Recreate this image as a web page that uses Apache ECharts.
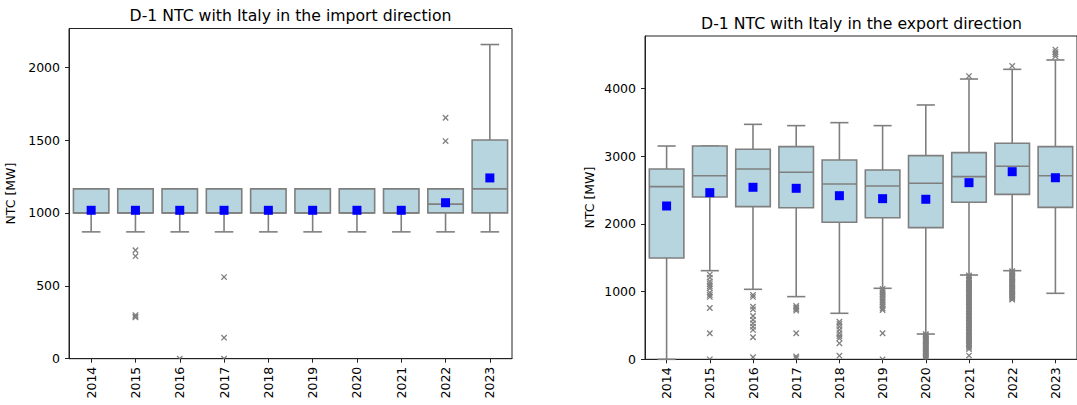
<!DOCTYPE html>
<html><head><meta charset="utf-8">
<script src="https://cdn.jsdelivr.net/npm/echarts@6/dist/echarts.min.js"></script>
<style>html,body{margin:0;padding:0;background:#fff}#c{width:1077px;height:405px}</style>
</head><body><div id="c"></div>
<script>
// ---------- data ----------
const categories = ['2014','2015','2016','2017','2018','2019','2020','2021','2022','2023'];
const importTicks = [0, 500, 1000, 1500, 2000];
const exportTicks = [0, 1000, 2000, 3000, 4000];

// import direction
const impLow    = [870, 870, 870, 870, 870, 870, 870, 870, 870, 870];
const impQ1     = [1000, 1000, 1000, 1000, 1000, 1000, 1000, 1000, 1000, 1000];
const impMedian = [1000, 1000, 1000, 1000, 1000, 1000, 1000, 1000, 1060, 1165];
const impQ3     = [1165, 1165, 1165, 1165, 1165, 1165, 1165, 1165, 1165, 1500];
const impHigh   = [1165, 1165, 1165, 1165, 1165, 1165, 1165, 1165, 1165, 2155];
const impMean   = [1018, 1018, 1018, 1018, 1018, 1018, 1018, 1018, 1070, 1240];
const impOutliers = [
  [],
  [744, 703, 299, 290, 283],
  [0],
  [560, 144, 0],
  [], [], [], [],
  [1653, 1493],
  []
];

// export direction
const expLow    = [0, 1308, 1033, 925, 679, 1048, 373, 1244, 1308, 974];
const expQ1     = [1495, 2396, 2253, 2238, 2022, 2090, 1943, 2317, 2435, 2243];
const expMedian = [2548, 2710, 2809, 2760, 2588, 2558, 2598, 2696, 2849, 2710];
const expQ3     = [2809, 3148, 3100, 3139, 2942, 2794, 3006, 3050, 3188, 3139];
const expHigh   = [3148, 3148, 3468, 3449, 3493, 3449, 3754, 4137, 4280, 4418];
const expMean   = [2263, 2460, 2539, 2524, 2415, 2371, 2362, 2607, 2769, 2680];
const expOutliers = [
  [],
  [1250, 1205, 1150, 1112, 1078, 1046, 985, 950, 921, 757, 384, 0],
  [950, 921, 777, 738, 639, 583, 531, 482, 433, 325, 30],
  [787, 762, 741, 718, 384, 42, 15],
  [555, 522, 482, 433, 384, 342, 308, 236, 53],
  [1040, 1012, 988, 962, 935, 902, 874, 846, 812, 785, 752, 728, 384, 0],
  [372, 355, 338, 322, 301, 287, 266, 248, 231, 212, 197, 178, 160, 143, 121, 104, 86, 69, 48, 31, 14, 0],
  [4180, 1238, 1221, 1197, 1176, 1158, 1133, 1112, 1094, 1071, 1052, 1030, 1011, 987, 968, 946, 921, 903, 884, 862, 840, 821, 798, 777, 756, 734, 712, 691, 668, 649, 627, 605, 584, 562, 541, 520, 498, 476, 455, 433, 412, 390, 368, 347, 325, 303, 282, 260, 238, 217, 196, 172, 150, 55],
  [4330, 1302, 1286, 1268, 1251, 1234, 1215, 1198, 1181, 1163, 1146, 1127, 1110, 1092, 1074, 1057, 1039, 1021, 1003, 986, 968, 950, 932, 915, 897, 880],
  [4572, 4535, 4503, 4470]
];

// ---------- styling ----------
const BOX = '#b6d5df', BORDER = '#7f7f7f', AX = '#222';
const FONT = 'DejaVu Sans';
const TICKFS = 12.5, TITLEFS = 15.7;

function boxData(low, q1, med, q3, high) {
  return categories.map((c, i) => [i, low[i], q1[i], med[i], q3[i], high[i]]);
}
function outData(list) {
  const out = [];
  list.forEach((arr, i) => arr.forEach(v => out.push([i, v])));
  return out;
}
function meanData(m) { return categories.map((c, i) => [i, m[i]]); }

function renderBox(params, api) {
  const i = api.value(0);
  const low = api.coord([i, api.value(1)]);
  const q1 = api.coord([i, api.value(2)]);
  const med = api.coord([i, api.value(3)]);
  const q3 = api.coord([i, api.value(4)]);
  const high = api.coord([i, api.value(5)]);
  const band = api.size([1, 0])[0];
  const bw = band * 0.8, cw = band * 0.42;
  const x = q1[0];
  const st = { stroke: BORDER, lineWidth: 1.6, fill: null };
  return { type: 'group', children: [
    { type: 'line', shape: { x1: x, y1: q1[1], x2: x, y2: low[1] }, style: st },
    { type: 'line', shape: { x1: x - cw / 2, y1: low[1], x2: x + cw / 2, y2: low[1] }, style: st },
    { type: 'line', shape: { x1: x, y1: q3[1], x2: x, y2: high[1] }, style: st },
    { type: 'line', shape: { x1: x - cw / 2, y1: high[1], x2: x + cw / 2, y2: high[1] }, style: st },
    { type: 'rect', shape: { x: x - bw / 2, y: q3[1], width: bw, height: q1[1] - q3[1] },
      style: { fill: BOX, stroke: BORDER, lineWidth: 1.6 } },
    { type: 'line', shape: { x1: x - bw / 2, y1: med[1], x2: x + bw / 2, y2: med[1] }, style: st }
  ] };
}
function renderX(params, api) {
  const p = api.coord([api.value(0), api.value(1)]);
  const r = 2.7;
  const st = { stroke: BORDER, lineWidth: 1.3 };
  return { type: 'group', children: [
    { type: 'line', shape: { x1: p[0] - r, y1: p[1] - r, x2: p[0] + r, y2: p[1] + r }, style: st },
    { type: 'line', shape: { x1: p[0] - r, y1: p[1] + r, x2: p[0] + r, y2: p[1] - r }, style: st }
  ] };
}

function xAxis(gi) {
  return {
    type: 'category', gridIndex: gi, data: categories, boundaryGap: true,
    axisLine: { show: true, lineStyle: { color: AX, width: 1 } },
    axisTick: { show: true, alignWithLabel: true, length: 4, lineStyle: { color: AX } },
    axisLabel: { rotate: 90, margin: 8, color: '#000', fontFamily: FONT, fontSize: TICKFS, interval: 0 },
    splitLine: { show: false }
  };
}
function yAxis(gi, max, interval, ticks, gap) {
  return {
    type: 'value', gridIndex: gi, min: 0, max: max, interval: interval,
    name: 'NTC [MW]', nameLocation: 'middle', nameGap: gap,
    nameTextStyle: { fontFamily: FONT, fontSize: TICKFS, color: '#000' },
    axisLine: { show: true, lineStyle: { color: AX, width: 1 } },
    axisTick: { show: true, length: 4, lineStyle: { color: AX }, customValues: ticks },
    axisLabel: { margin: 9, color: '#000', fontFamily: FONT, fontSize: TICKFS, customValues: ticks,
      formatter: v => String(Math.round(v)) },
    splitLine: { show: false }
  };
}

const chart = echarts.init(document.getElementById('c'), null, { renderer: 'svg' });
chart.setOption({
  animation: false,
  backgroundColor: '#fff',
  title: [
    { text: 'D-1 NTC with Italy in the import direction', left: 290.5, top: 7, textAlign: 'center', padding: 0,
      textStyle: { fontFamily: FONT, fontSize: TITLEFS, fontWeight: 'normal', color: '#000' } },
    { text: 'D-1 NTC with Italy in the export direction', left: 861.5, top: 15, textAlign: 'center', padding: 0,
      textStyle: { fontFamily: FONT, fontSize: TITLEFS, fontWeight: 'normal', color: '#000' } }
  ],
  grid: [
    { left: 69, top: 28.5, width: 443, height: 330.2, show: true, borderColor: AX, borderWidth: 1, backgroundColor: 'transparent' },
    { left: 645, top: 36, width: 433, height: 323.3, show: true, borderColor: AX, borderWidth: 1, backgroundColor: 'transparent' }
  ],
  xAxis: [xAxis(0), xAxis(1)],
  yAxis: [yAxis(0, 2265, 500, importTicks, 52), yAxis(1, 4772, 1000, exportTicks, 49)],
  series: [
    { type: 'custom', xAxisIndex: 0, yAxisIndex: 0, renderItem: renderBox, z: 2,
      encode: { x: 0, y: [1, 2, 3, 4, 5] }, data: boxData(impLow, impQ1, impMedian, impQ3, impHigh) },
    { type: 'custom', xAxisIndex: 0, yAxisIndex: 0, renderItem: renderX, clip: true, z: 3,
      encode: { x: 0, y: 1 }, data: outData(impOutliers) },
    { type: 'scatter', xAxisIndex: 0, yAxisIndex: 0, symbol: 'rect', symbolSize: 9, z: 4,
      itemStyle: { color: '#0000ff', opacity: 1 }, data: meanData(impMean) },
    { type: 'custom', xAxisIndex: 1, yAxisIndex: 1, renderItem: renderBox, z: 2,
      encode: { x: 0, y: [1, 2, 3, 4, 5] }, data: boxData(expLow, expQ1, expMedian, expQ3, expHigh) },
    { type: 'custom', xAxisIndex: 1, yAxisIndex: 1, renderItem: renderX, clip: true, z: 3,
      encode: { x: 0, y: 1 }, data: outData(expOutliers) },
    { type: 'scatter', xAxisIndex: 1, yAxisIndex: 1, symbol: 'rect', symbolSize: 9, z: 4,
      itemStyle: { color: '#0000ff', opacity: 1 }, data: meanData(expMean) }
  ]
});
</script>
</body></html>
